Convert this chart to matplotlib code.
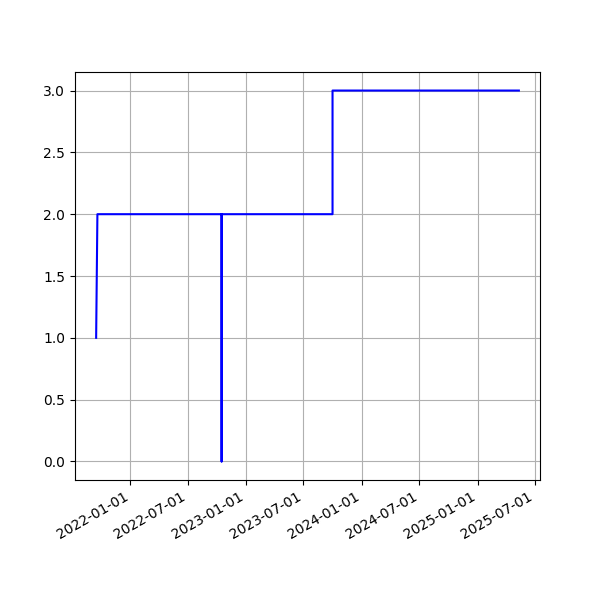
import pandas as pd
import matplotlib
matplotlib.use('Agg')
import matplotlib.pyplot as plt
import matplotlib.dates as mdates

# data
dates = ['2021-09-15', '2021-09-19', '2022-10-16', '2022-10-16', '2022-10-16',
         '2023-10-01', '2023-10-01', '2025-05-11']
values = [1, 2, 2, 0, 2, 2, 3, 3]

dates = pd.to_datetime(dates)

fig, ax = plt.subplots(figsize=(6, 6), dpi=100)
ax.plot(dates, values, color='blue')
ax.grid(True)
ax.xaxis.set_major_locator(mdates.MonthLocator(bymonth=[1, 7]))
ax.xaxis.set_major_formatter(mdates.DateFormatter('%Y-%m-%d'))
fig.autofmt_xdate()
fig.savefig('out.png')
